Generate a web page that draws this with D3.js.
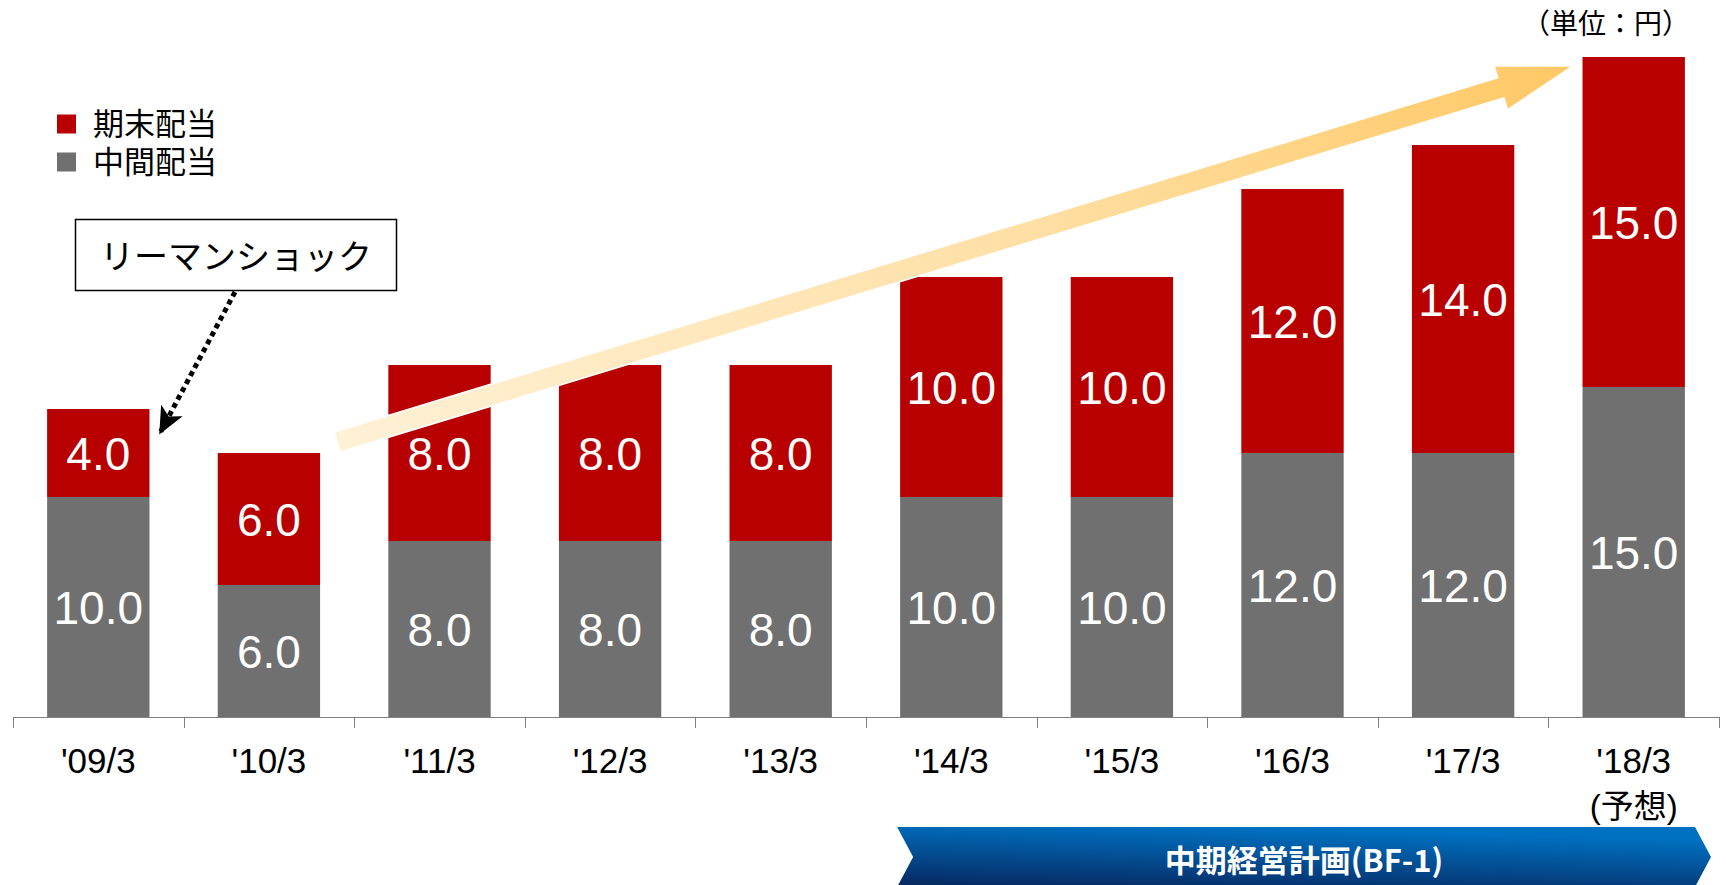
<!DOCTYPE html>
<html>
<head>
<meta charset="utf-8">
<title>配当の推移</title>
<script src="https://d3js.org/d3.v7.min.js"></script>
<style>
  body, html { margin: 0; padding: 0; background: #fff; }
  #chart { display: block; }
  .barlabel { font-family: "Liberation Sans", Arial, sans-serif; font-size: 46px; fill: #fff; text-anchor: middle; }
  .axis path, .axis line { stroke: #7f7f7f; stroke-width: 1.5px; shape-rendering: crispEdges; }
  .jp { font-family: "Noto Sans CJK JP", sans-serif; }
</style>
</head>
<body>
<svg id="chart" width="1726" height="885"></svg>
<script>
// data (単位: 円)
var categories = ["'09/3", "'10/3", "'11/3", "'12/3", "'13/3", "'14/3", "'15/3", "'16/3", "'17/3", "'18/3"];
var interim = [10, 6, 8, 8, 8, 10, 10, 12, 12, 15];   // 中間配当
var yearEnd = [4, 6, 8, 8, 8, 10, 10, 12, 14, 15];    // 期末配当
var subLabels = ["", "", "", "", "", "", "", "", "", "(予想)"];
var legendItems = ["期末配当", "中間配当"];

var RED = "#b80000", GRAY = "#707070";

var svg = d3.select("#chart");
var defs = svg.append("defs");

var x = d3.scaleBand().domain(categories).range([13, 1719]).paddingInner(0.4).paddingOuter(0.2);
var y = d3.scaleLinear().domain([0, 30]).range([717, 57]);

var rows = categories.map(function(c, i) {
  return { cat: c, interim: interim[i], yearEnd: yearEnd[i] };
});

// gray (interim) segment
svg.selectAll(".bar-int").data(rows).enter().append("rect")
  .attr("class", "bar-int")
  .attr("x", function(d) { return x(d.cat); })
  .attr("width", x.bandwidth())
  .attr("y", function(d) { return y(d.interim); })
  .attr("height", function(d) { return y(0) - y(d.interim); })
  .attr("fill", GRAY);

// red (year end) segment
svg.selectAll(".bar-end").data(rows).enter().append("rect")
  .attr("class", "bar-end")
  .attr("x", function(d) { return x(d.cat); })
  .attr("width", x.bandwidth())
  .attr("y", function(d) { return y(d.interim + d.yearEnd); })
  .attr("height", function(d) { return y(d.interim) - y(d.interim + d.yearEnd); })
  .attr("fill", RED);

// axis
var xAxis = d3.axisBottom(x).tickSize(0).tickFormat("");
var ax = svg.append("g").attr("class", "axis").attr("transform", "translate(0," + y(0) + ")").call(xAxis);
ax.select(".domain").attr("d", "M13,0.5H1719");
// tick marks at category boundaries
var step = x.step();
var bounds = d3.range(categories.length + 1).map(function(i) { return x(categories[0]) - x.paddingOuter() * step + i * step; });
ax.selectAll(".sep").data(bounds).enter().append("line")
  .attr("class", "sep")
  .attr("x1", function(d) { return Math.round(d) + 0.5; })
  .attr("x2", function(d) { return Math.round(d) + 0.5; })
  .attr("y1", 0).attr("y2", 11);

// category labels (two lines for the forecast year)
var catText = svg.selectAll(".cat").data(categories).enter().append("text")
  .attr("class", "cat")
  .attr("text-anchor", "middle")
  .style("font-family", "'Liberation Sans', 'Noto Sans CJK JP', sans-serif")
  .style("font-size", "35px");
catText.append("tspan")
  .attr("x", function(d) { return x(d) + x.bandwidth() / 2; })
  .attr("y", 773)
  .text(function(d) { return d; });
catText.append("tspan")
  .attr("x", function(d) { return x(d) + x.bandwidth() / 2; })
  .attr("dy", 45)
  .style("font-size", "33px")
  .text(function(d, i) { return subLabels[i]; });

// big yellow arrow (drawn over bars)
var grad = defs.append("linearGradient").attr("id", "arrowGrad")
  .attr("gradientUnits", "userSpaceOnUse");
var tail = [x(categories[1]) + x.bandwidth() + 17, y(12.5)];
var tip = [x(categories[9]) - 10, y(30) + 9];
grad.attr("x1", tail[0]).attr("y1", tail[1]).attr("x2", tip[0]).attr("y2", tip[1]);
grad.append("stop").attr("offset", "0%").attr("stop-color", "#fff1d6");
grad.append("stop").attr("offset", "55%").attr("stop-color", "#fee0a6");
grad.append("stop").attr("offset", "100%").attr("stop-color", "#ffc864");

(function() {
  var dx = tip[0] - tail[0], dy = tip[1] - tail[1];
  var len = Math.sqrt(dx * dx + dy * dy);
  var ux = dx / len, uy = dy / len;      // along
  var nx = -uy, ny = ux;                 // normal
  var sw = 10.5, hw = 23, hl = 75;
  var bx = tip[0] - ux * hl, by = tip[1] - uy * hl;
  var pts = [
    [tail[0] + nx * sw, tail[1] + ny * sw],
    [bx + nx * sw, by + ny * sw],
    [bx + nx * hw, by + ny * hw],
    tip,
    [bx - nx * hw, by - ny * hw],
    [bx - nx * sw, by - ny * sw],
    [tail[0] - nx * sw, tail[1] - ny * sw]
  ];
  svg.append("path")
    .attr("d", d3.line()(pts) + "Z")
    .attr("fill", "url(#arrowGrad)")
    .attr("stroke", "#fff")
    .attr("stroke-width", 1.5)
    .attr("stroke-linejoin", "miter");
})();

// value labels
svg.selectAll(".lab-int").data(rows).enter().append("text")
  .attr("class", "barlabel")
  .attr("x", function(d) { return x(d.cat) + x.bandwidth() / 2; })
  .attr("y", function(d) { return y(d.interim / 2); })
  .attr("dy", "0.36em")
  .text(function(d) { return d.interim.toFixed(1); });
svg.selectAll(".lab-end").data(rows).enter().append("text")
  .attr("class", "barlabel")
  .attr("x", function(d) { return x(d.cat) + x.bandwidth() / 2; })
  .attr("y", function(d) { return y(d.interim + d.yearEnd / 2); })
  .attr("dy", "0.36em")
  .text(function(d) { return d.yearEnd.toFixed(1); });

// legend
var leg = svg.append("g").attr("class", "legend");
legendItems.forEach(function(name, i) {
  leg.append("rect").attr("x", 57).attr("y", 124 + i * 38 - 9.5).attr("width", 19).attr("height", 19)
    .attr("fill", i === 0 ? RED : GRAY);
});
var legText = leg.append("text").attr("class", "jp").style("font-size", "31px");
legendItems.forEach(function(name, i) {
  legText.append("tspan").attr("x", 93)
    .attr("y", 124 + i * 38).attr("dy", "0.36em").text(name);
});

// unit
svg.append("text").attr("class", "jp").attr("x", 1690).attr("y", 24).attr("dy", "0.36em")
  .attr("text-anchor", "end").style("font-size", "28px").text("（単位：円）");

// callout: リーマンショック
svg.append("rect").attr("x", 75.5).attr("y", 219.5).attr("width", 321).attr("height", 71)
  .attr("fill", "#fff").attr("stroke", "#000").attr("stroke-width", 1.5);
svg.append("text").attr("class", "jp").attr("x", 236).attr("y", 257).attr("dy", "0.36em")
  .attr("text-anchor", "middle").style("font-size", "34px").text("リーマンショック");

defs.append("marker").attr("id", "head")
  .attr("viewBox", "0 0 10 10").attr("refX", 9).attr("refY", 5)
  .attr("markerWidth", 27).attr("markerHeight", 27).attr("markerUnits", "userSpaceOnUse")
  .attr("orient", "auto")
  .append("path").attr("d", "M0,0.5L10,5L0,9.5L2.5,5Z").attr("fill", "#000");

svg.append("line")
  .attr("x1", 235).attr("y1", 292)
  .attr("x2", x(categories[0]) + x.bandwidth() + 11).attr("y2", y(14) + 23)
  .attr("stroke", "#000").attr("stroke-width", 5).attr("stroke-dasharray", "5,4")
  .attr("marker-end", "url(#head)");

// banner: 中期経営計画(BF-1)
var bg = defs.append("linearGradient").attr("id", "bannerGrad")
  .attr("x1", "0").attr("y1", "1").attr("x2", "0.35").attr("y2", "0");
bg.append("stop").attr("offset", "0%").attr("stop-color", "#07275f");
bg.append("stop").attr("offset", "100%").attr("stop-color", "#0070c0");
var bl = x(categories[5]) - 3, br = 1711, bt = 827, bb = 887, notch = 16;
svg.append("path")
  .attr("d", d3.line()([[bl, bt], [br - notch, bt], [br, (bt + bb) / 2], [br - notch, bb], [bl, bb], [bl + notch, (bt + bb) / 2]]) + "Z")
  .attr("fill", "url(#bannerGrad)");
svg.append("text").attr("class", "jp").attr("x", (bl + br) / 2).attr("y", 861).attr("dy", "0.36em")
  .attr("text-anchor", "middle").style("font-size", "31px").style("font-weight", "bold")
  .attr("fill", "#fff").text("中期経営計画(BF-1)");
</script>
</body>
</html>
